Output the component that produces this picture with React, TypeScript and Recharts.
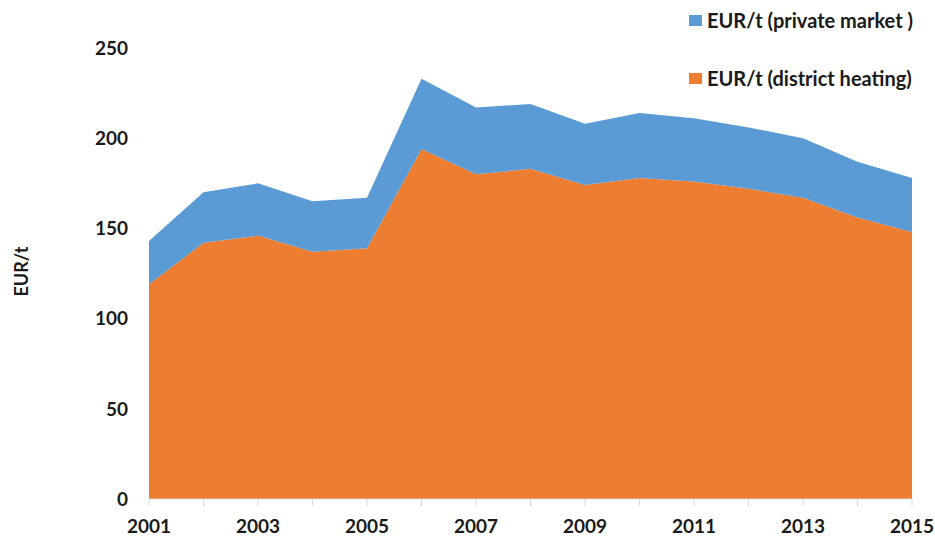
import React from 'react';
import { AreaChart, Area, XAxis, YAxis, Label } from 'recharts';

const years = [2001, 2002, 2003, 2004, 2005, 2006, 2007, 2008, 2009, 2010, 2011, 2012, 2013, 2014, 2015];
const districtHeating = [119, 142, 146, 137, 139, 194, 180, 183, 174, 178, 176, 172, 167, 156, 148];
const privateMarket = [24, 28, 29, 28, 28, 39, 37, 36, 34, 36, 35, 34, 33, 31, 30];
const yTicks = [0, 50, 100, 150, 200, 250];

const seriesNames = {
  private: 'EUR/t (private market )',
  district: 'EUR/t (district heating)',
};

const BLUE = '#5B9BD5';
const ORANGE = '#ED7D31';
const FONT = 'Lato, "Open Sans", sans-serif';

const data = years.map((y, i) => ({
  year: y,
  district: districtHeating[i],
  private: privateMarket[i],
}));

const XTick = (props: any) => {
  const { x, y, payload } = props;
  const v = Number(payload.value);
  if (v % 2 === 0) return null;
  return (
    <text x={x} y={y} dy="0.71em" textAnchor="middle" fill="#1a1a1a" fontSize={19} fontWeight={700} fontFamily={FONT}>
      {v}
    </text>
  );
};

const LegendBox = () => {
  const items = [
    { name: seriesNames.private, color: BLUE },
    { name: seriesNames.district, color: ORANGE },
  ];
  return (
    <div
      style={{
        position: 'absolute',
        left: 689,
        top: 9,
        fontFamily: FONT,
        fontWeight: 700,
        fontSize: 20,
        color: '#1a1a1a',
        whiteSpace: 'nowrap',
      }}
    >
      {items.map((it, i) => (
        <div key={i} style={{ display: 'flex', alignItems: 'center', height: 22, marginBottom: i === 0 ? 36 : 0 }}>
          <span style={{ display: 'inline-block', width: 13, height: 11, background: it.color, marginRight: 5 }} />
          <span>{it.name}</span>
        </div>
      ))}
    </div>
  );
};

export default function App() {
  return (
    <div style={{ position: 'relative', width: 935, height: 538, background: '#fff' }}>
      <style>{`body{margin:0}`}</style>
      <AreaChart width={935} height={538} data={data} margin={{ top: 48, right: 23, left: 0, bottom: 0 }}>
        <XAxis
          dataKey="year"
          height={39}
          interval={0}
          axisLine={{ stroke: '#d9d9d9' }}
          tickLine={{ stroke: '#d9d9d9' }}
          tickSize={7}
          tickMargin={14}
          tick={<XTick />}
        />
        <YAxis
          width={149}
          domain={[0, 250]}
          ticks={yTicks}
          axisLine={false}
          tickLine={false}
          tickSize={0}
          tickMargin={21}
          tick={{ fill: '#1a1a1a', fontSize: 19, fontWeight: 700, fontFamily: FONT }}
        >
          <Label
            content={(p: any) => {
              const vb = p.viewBox || { x: 0, y: 48, height: 451 };
              const cx = vb.x + 21;
              const cy = vb.y + vb.height / 2 - 2;
              return (
                <text
                  x={cx}
                  y={cy}
                  transform={`rotate(-90, ${cx}, ${cy})`}
                  textAnchor="middle"
                  dominantBaseline="central"
                  fill="#1a1a1a"
                  fontSize={18}
                  fontWeight={700}
                  fontFamily={FONT}
                >
                  EUR/t
                </text>
              );
            }}
          />
        </YAxis>
        <Area
          type="linear"
          dataKey="district"
          name={seriesNames.district}
          stackId="a"
          stroke="none"
          fill={ORANGE}
          fillOpacity={1}
          isAnimationActive={false}
        />
        <Area
          type="linear"
          dataKey="private"
          name={seriesNames.private}
          stackId="a"
          stroke="none"
          fill={BLUE}
          fillOpacity={1}
          isAnimationActive={false}
        />
      </AreaChart>
      <LegendBox />
    </div>
  );
}
